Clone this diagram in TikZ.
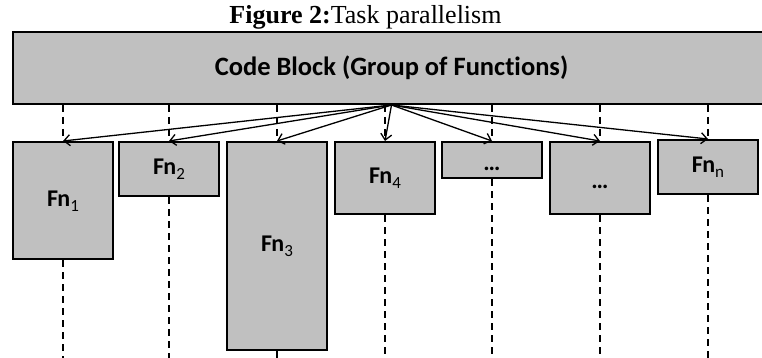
\documentclass[tikz,border=0pt]{standalone}
\usepackage{fontspec}
\setmainfont{Liberation Serif}
\newfontfamily\carlito[Ligatures=NoCommon]{Carlito}
\usetikzlibrary{arrows.meta,positioning}

\definecolor{boxgray}{RGB}{192,192,192}
\newcommand{\fnsub}[1]{\raisebox{-5pt}{\mdseries\fontsize{17}{20}\selectfont #1}}

\begin{document}
\begin{tikzpicture}[
    x=1pt, y=-1pt,
    block/.style={rectangle, draw, fill=boxgray, line width=2pt, inner sep=0pt},
    fnbox/.style={block, minimum width=100pt, anchor=north, text height=15pt, text depth=4pt, font=\carlito\bfseries\fontsize{24}{28}\selectfont},
    arrow/.style={-{Straight Barb[length=6pt, width=11pt]}, line width=1.3pt},
    lifeline/.style={dashed, dash pattern=on 7pt off 5pt, line width=1.3pt}
]

\useasboundingbox (0,0) rectangle (762,358);
\coordinate (bottom) at (0,358);

% Title
\node[anchor=base, font=\fontsize{26}{30}\selectfont] (title) at (365.5,24) {\textbf{Figure 2:}Task parallelism};

% Code block (cut off on the right)
\node[block, minimum width=757pt, minimum height=72pt, font=\carlito\bfseries\fontsize{26.5}{30}\selectfont] (code) at (391.5,68) {Code Block (Group of Functions)};

% Function boxes
\foreach \nm/\px/\py/\hgt/\lbl in {
    fn1/63/141/117/{Fn\fnsub{1}},
    fn2/169/141/54/{Fn\fnsub{2}},
    fn3/277/141/208/{Fn\fnsub{3}},
    fn4/385/141/72/{Fn\fnsub{4}},
    dotsa/492/141/36/{\raisebox{-5pt}{\ldots}},
    dotsb/600/141/72/{\raisebox{-5pt}{\ldots}},
    fnn/708/139/54/{Fn\fnsub{n}}} {
    \node[fnbox, minimum height=\hgt pt] (\nm) at (\px,\py) {\lbl};
}

% Lifelines and arrows
\foreach \nm in {fn1,fn2,fn3,fn4,dotsa,dotsb,fnn} {
    \draw[lifeline] (\nm.north |- code.south) -- (\nm.north);
    \draw[lifeline] (\nm.south) -- (\nm.south |- bottom);
    \draw[arrow] (code.south) -- (\nm.north);
}

\end{tikzpicture}
\end{document}
